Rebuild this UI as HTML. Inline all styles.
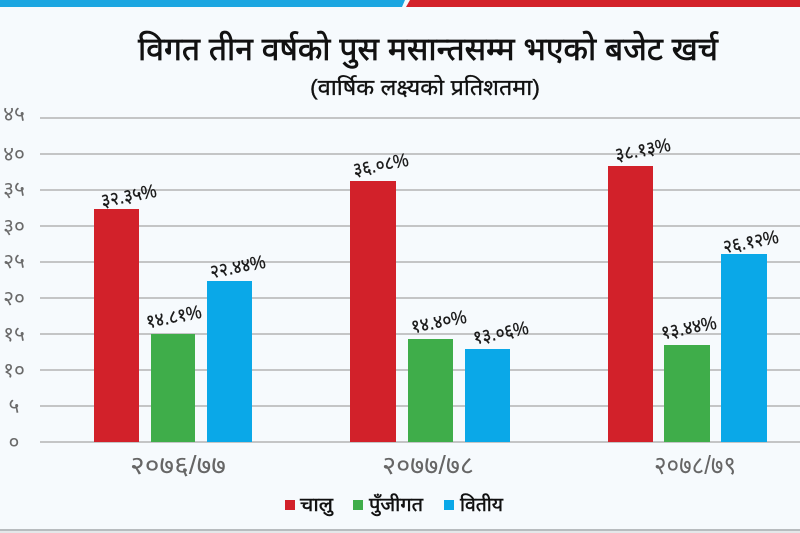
<!DOCTYPE html>
<html>
<head>
<meta charset="utf-8">
<style>
html,body{margin:0;padding:0;background:#f6fafd;}
body{width:800px;height:533px;overflow:hidden;}
svg{display:block;}
text{font-family:"Liberation Sans","Noto Sans Devanagari","Lohit Devanagari","Mukta","Kalimati",sans-serif;}
</style>
</head>
<body>
<svg width="800" height="533" viewBox="0 0 800 533" xmlns="http://www.w3.org/2000/svg">
  <rect x="0" y="0" width="800" height="533" fill="#f6fafd"/>
  <!-- top bars -->
  <polygon points="0,0 405,0 402,7 0,7" fill="#1ba6e1"/>
  <polygon points="410,0 800,0 800,7 406,7" fill="#d3222a"/>

  <!-- title -->
  <text x="428" y="60" text-anchor="middle" font-size="32" fill="#111" stroke="#111" stroke-width="0.7" textLength="580" lengthAdjust="spacingAndGlyphs">विगत तीन वर्षको पुस मसान्तसम्म भएको बजेट खर्च</text>
  <text x="425" y="95" text-anchor="middle" font-size="22" fill="#111" stroke="#111" stroke-width="0.3" textLength="230" lengthAdjust="spacingAndGlyphs">(वार्षिक लक्ष्यको प्रतिशतमा)</text>

  <!-- gridlines -->
  <g stroke="#b3b3b3" stroke-width="1.5">
    <line x1="40" y1="118" x2="800" y2="118"/>
    <line x1="40" y1="154" x2="800" y2="154"/>
    <line x1="40" y1="190" x2="800" y2="190"/>
    <line x1="40" y1="226" x2="800" y2="226"/>
    <line x1="40" y1="262" x2="800" y2="262"/>
    <line x1="40" y1="298" x2="800" y2="298"/>
    <line x1="40" y1="334" x2="800" y2="334"/>
    <line x1="40" y1="370" x2="800" y2="370"/>
    <line x1="40" y1="406" x2="800" y2="406"/>
    <line x1="40" y1="442" x2="800" y2="442"/>
  </g>

  <!-- y labels -->
  <g font-size="21" fill="#6a6a6a" text-anchor="middle">
    <text x="14" y="121">४५</text>
    <text x="14" y="161">४०</text>
    <text x="14" y="196">३५</text>
    <text x="14" y="233">३०</text>
    <text x="14" y="268">२५</text>
    <text x="14" y="305">२०</text>
    <text x="14" y="341">१५</text>
    <text x="14" y="377">१०</text>
    <text x="14" y="413">५</text>
    <text x="14" y="449">०</text>
  </g>

  <!-- bars group 1 -->
  <rect x="94" y="209" width="45" height="233" fill="#d2212a"/>
  <rect x="151" y="334" width="44" height="108" fill="#3fad4a"/>
  <rect x="207" y="281" width="45" height="161" fill="#0aa8e8"/>
  <!-- group 2 -->
  <rect x="350" y="181" width="46" height="261" fill="#d2212a"/>
  <rect x="408" y="339" width="45" height="103" fill="#3fad4a"/>
  <rect x="465" y="349" width="45" height="93" fill="#0aa8e8"/>
  <!-- group 3 -->
  <rect x="608" y="166" width="45" height="276" fill="#d2212a"/>
  <rect x="664" y="345" width="46" height="97" fill="#3fad4a"/>
  <rect x="721" y="254" width="46" height="188" fill="#0aa8e8"/>

  <!-- value labels -->
  <g font-size="19" fill="#1a1a1a" text-anchor="middle" stroke="#1a1a1a" stroke-width="0.3">
    <text transform="translate(130,202) rotate(-11)" textLength="56" lengthAdjust="spacingAndGlyphs">३२.३५%</text>
    <text transform="translate(175,323) rotate(-11)" textLength="56" lengthAdjust="spacingAndGlyphs">१४.८१%</text>
    <text transform="translate(239,273) rotate(-11)" textLength="56" lengthAdjust="spacingAndGlyphs">२२.४४%</text>
    <text transform="translate(382,171) rotate(-11)" textLength="56" lengthAdjust="spacingAndGlyphs">३६.०८%</text>
    <text transform="translate(440,328) rotate(-11)" textLength="56" lengthAdjust="spacingAndGlyphs">१४.४०%</text>
    <text transform="translate(502,339) rotate(-11)" textLength="56" lengthAdjust="spacingAndGlyphs">१३.०६%</text>
    <text transform="translate(644,156) rotate(-11)" textLength="56" lengthAdjust="spacingAndGlyphs">३८.१३%</text>
    <text transform="translate(690,334) rotate(-11)" textLength="56" lengthAdjust="spacingAndGlyphs">१३.४४%</text>
    <text transform="translate(752,248) rotate(-11)" textLength="56" lengthAdjust="spacingAndGlyphs">२६.१२%</text>
  </g>

  <!-- category labels -->
  <g font-size="26" fill="#666" text-anchor="middle">
    <text x="178" y="474" textLength="96" lengthAdjust="spacingAndGlyphs">२०७६/७७</text>
    <text x="428" y="474" textLength="92" lengthAdjust="spacingAndGlyphs">२०७७/७८</text>
    <text x="695" y="474" textLength="82" lengthAdjust="spacingAndGlyphs">२०७८/७९</text>
  </g>

  <!-- legend -->
  <rect x="285" y="500" width="10" height="10" fill="#d2212a"/>
  <text x="300" y="511" font-size="19" fill="#111" stroke="#111" stroke-width="0.5" textLength="33" lengthAdjust="spacingAndGlyphs">चालु</text>
  <rect x="353" y="500" width="10" height="10" fill="#3fad4a"/>
  <text x="369" y="511" font-size="19" fill="#111" stroke="#111" stroke-width="0.5" textLength="54" lengthAdjust="spacingAndGlyphs">पुँजीगत</text>
  <rect x="444" y="500" width="10" height="10" fill="#0aa8e8"/>
  <text x="460" y="511" font-size="19" fill="#111" stroke="#111" stroke-width="0.5" textLength="43" lengthAdjust="spacingAndGlyphs">वितीय</text>

  <!-- bottom rule -->
  <rect x="0" y="529" width="800" height="2" fill="#b8bcbf"/>
  <rect x="0" y="531" width="800" height="2" fill="#e4e7e9"/>
</svg>
</body>
</html>
